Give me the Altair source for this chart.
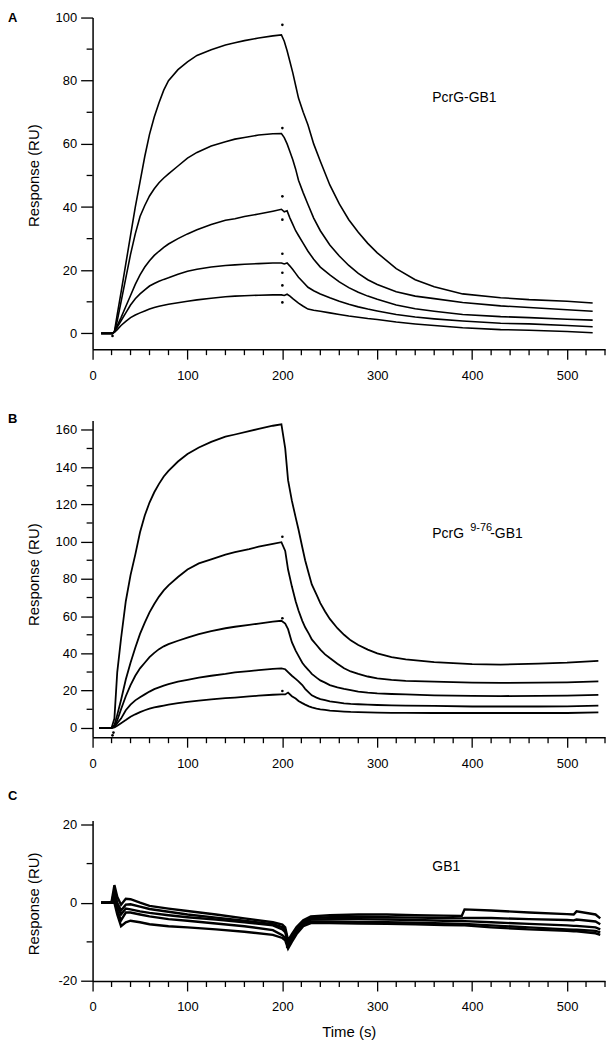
import altair as alt
import pandas as pd

FONT = "Liberation Sans"

# ---------------- tick values ----------------
X_MAJOR = [0, 100, 200, 300, 400, 500]
X_MINOR = [20, 40, 60, 80, 120, 140, 160, 180, 220, 240, 260, 280,
           320, 340, 360, 380, 420, 440, 460, 480, 520, 540]
A_Y_MAJOR = [0, 20, 40, 60, 80, 100]
A_Y_MINOR = [10, 30, 50, 70, 90]
B_Y_MAJOR = [0, 20, 40, 60, 80, 100, 120, 140, 160]
B_Y_MINOR = [10, 30, 50, 70, 90, 110, 130, 150]
C_Y_MAJOR = [-20, 0, 20]
C_Y_MINOR = [-10, 10]

# ---------------- panel A : PcrG-GB1 ----------------
A_time = [9, 15, 21, 23, 26, 30, 35, 40, 45, 50, 55, 60, 65, 70, 75, 80, 90, 100, 110, 125,
          140, 150, 160, 175, 190, 199, 202, 205, 208, 211, 214, 217, 222, 227, 233, 240, 250,
          260, 270, 280, 290, 300, 320, 340, 360, 390, 430, 460, 500, 527]
A_c1 = [0, 0, 0, 0.5, 6, 13, 22, 31, 40, 48, 56, 63, 68.5, 73, 77, 80, 83.5, 86, 88, 89.8,
        91.3, 92, 92.7, 93.5, 94.2, 94.5, 92.5, 89.5, 86, 82.5, 78.5, 74.5, 70, 66, 60, 54.5, 47,
        41, 36, 32, 28.5, 25.5, 20.5, 17, 14.8, 12.5, 11.3, 10.7, 10.2, 9.6]
A_c2 = [0, 0, 0, 0.5, 4, 10, 17.5, 25, 31.5, 37, 40.5, 43.5, 45.8, 47.7, 49.2, 50.5, 53, 55.5, 57.3, 59.3,
        60.7, 61.5, 62, 62.8, 63.2, 63.3, 62, 60, 57.5, 55, 52, 48.5, 44.5, 40.8, 36.5, 32.5, 28,
        24.5, 21.5, 19, 17, 15.5, 13.2, 11.8, 11, 9.8, 8.7, 8.2, 7.5, 7.0]
A_c3 = [0, 0, 0, 0.5, 2.5, 5, 8.5, 12, 15.5, 18.5, 21, 23, 24.7, 26, 27.2, 28.3, 30, 31.5, 32.8, 34.5,
        35.8, 36.3, 37, 37.8, 38.7, 39.3, 38.5, 38.8, 36.5, 34.5, 32.5, 31, 28.5, 26, 23.5, 21, 18.5,
        16.3, 14.5, 13, 11.8, 10.8, 9, 7.8, 7, 6.0, 5.3, 5.0, 4.5, 4.2]
A_c4 = [0, 0, 0, 0.5, 2, 4, 6.5, 9, 11, 12.5, 13.8, 15, 15.8, 16.5, 17.1, 17.6, 18.7, 19.7, 20.3, 21,
        21.5, 21.7, 21.9, 22.1, 22.3, 22.3, 22, 22.3, 21.3, 20.2, 19, 17.8, 16.2, 14.6, 13.5, 12.5, 11.3,
        10.2, 9.2, 8.4, 7.7, 7.1, 6, 5.2, 4.6, 3.9, 3.2, 3.0, 2.5, 2.1]
A_c5 = [0, 0, 0, 0.3, 1.2, 2.5, 3.8, 5, 5.8, 6.5, 7.1, 7.7, 8.2, 8.6, 8.9, 9.2, 9.7, 10.2, 10.6, 11.1,
        11.6, 11.8, 11.9, 12.1, 12.2, 12.2, 12, 12.4, 11.8, 11, 10.3, 9.6, 8.6, 7.7, 7.3, 7.0, 6.5,
        6.0, 5.5, 5.1, 4.7, 4.4, 3.6, 3.0, 2.5, 1.8, 1.2, 1.0, 0.6, 0.2]
A_spike_t = [200, 200, 200, 200, 200, 200, 200, 200, 21]
A_spike_v = [97.7, 65, 43.4, 36, 25.2, 19.2, 15.2, 9.8, -0.8]

# ---------------- panel B : PcrG 9-76-GB1 ----------------
B_time = [7, 15, 20, 23, 26, 30, 35, 40, 45, 50, 55, 60, 65, 70, 75, 80, 90, 100, 112, 125,
          140, 150, 165, 175, 190, 199, 203, 206, 210, 214, 217, 221, 224, 228, 231, 236, 240,
          245, 250, 258, 265, 272, 280, 290, 300, 315, 330, 360, 400, 430, 470, 500, 533]
B_c1 = [0, 0, 0, 5, 30, 48, 68, 82, 93, 105, 114, 121, 126.5, 131, 135, 138, 143, 147, 150.5, 153.5,
        156.3, 157.5, 159.3, 160.5, 162.2, 163, 150, 133, 122, 113, 106.5, 97, 90, 82.5, 77, 71.5, 67,
        62.5, 58.5, 53.5, 50, 47, 44.5, 42, 40, 38, 36.8, 35.3, 34.3, 34, 34.5, 35, 36]
B_c2 = [0, 0, 0, 1.5, 7, 15, 26, 35, 43, 50.5, 56.5, 62, 66.5, 70.5, 73.8, 76.5, 81, 85, 88.3, 90.5,
        93, 94.3, 96, 97.3, 98.8, 99.7, 95, 85, 76, 68, 63, 57.5, 54, 50.5, 47.5, 44.5, 42,
        39.5, 37.5, 34.5, 32, 30.3, 29, 27.6, 26.6, 25.8, 25.3, 24.8, 24.3, 24.2, 24.3, 24.5, 25]
B_c3 = [0, 0, 0, 1, 4, 10, 17, 23, 28, 32, 35, 38, 40.3, 42.3, 43.8, 45, 46.8, 48.5, 50.3, 52,
        53.5, 54.3, 55.3, 56, 57, 57.5, 56, 53, 46, 41.5, 38.7, 35, 33, 30.8, 29, 27, 25.5,
        24.3, 23, 21.8, 21, 20.3, 19.5, 18.9, 18.5, 18.2, 18, 17.5, 17.2, 17.1, 17.2, 17.3, 17.7]
B_c4 = [0, 0, 0, 0.5, 2.5, 5, 9.5, 12.5, 14.8, 16.5, 18, 19.5, 20.8, 21.8, 22.7, 23.5, 24.8, 25.8, 27, 28,
        29, 29.8, 30.5, 31, 31.7, 32, 31.5, 30, 28, 26.3, 25, 23, 21, 19, 17.5, 16.3, 15.5,
        14.9, 14.3, 13.7, 13.2, 12.9, 12.7, 12.5, 12.3, 12.1, 12, 11.8, 11.5, 11.5, 11.5, 11.6, 12]
B_c5 = [0, 0, 0, 0.3, 1.2, 2.5, 4.2, 6, 7.3, 8.5, 9.5, 10.3, 11, 11.5, 12, 12.5, 13.3, 14, 14.7, 15.3,
        16, 16.3, 16.9, 17.3, 17.8, 18, 18, 19, 17, 15.8, 14.5, 13.3, 12.5, 11.6, 11, 10.4, 10,
        9.7, 9.3, 9.0, 8.8, 8.6, 8.5, 8.3, 8.2, 8.1, 8.1, 8, 8, 8, 8, 8, 8.3]
B_spike_t = [200, 200, 200, 21, 22]
B_spike_v = [102.6, 58.9, 19.8, -4, -2.5]

# ---------------- panel C : GB1 ----------------
C_time = [9, 15, 20, 23, 26, 30, 35, 40, 50, 60, 80, 100, 130, 160, 190, 200, 203, 206, 210,
          215, 222, 230, 250, 280, 310, 340, 370, 389, 392, 420, 460, 500, 507, 510, 530, 535]
C_c1 = [0, 0, 0.2, 4.5, 1.5, -0.5, 1, 0.9, 0, -0.8, -1.5, -2.1, -3, -4, -5, -5.6, -6.3, -9.6, -8,
        -6.2, -4.5, -3.5, -3.2, -3, -3, -3.2, -3.3, -3.4, -1.7, -2, -2.5, -2.9, -3, -2.2, -3, -4]
C_c2 = [0, 0, 0, 3, 0, -2, -0.5, -0.4, -1, -1.6, -2.3, -3, -3.8, -4.6, -5.5, -6.2, -7, -10, -8.5,
        -6.5, -4.8, -3.9, -3.7, -3.6, -3.7, -3.8, -3.9, -4, -3.9, -3.9, -4.2, -4.4, -4.5, -4.3, -4.8, -5.5]
C_c3 = [0, 0, 0, 2, -1, -3, -1.5, -1.7, -2.2, -2.6, -3.2, -3.7, -4.3, -5, -5.8, -6.8, -7.5, -10.5, -9,
        -7, -5.2, -4.3, -4.2, -4.2, -4.3, -4.4, -4.6, -4.7, -4.7, -5, -5.4, -5.8, -5.9, -5.9, -6.3, -6.8]
C_c4 = [0, 0, 0, 1, -2, -4.5, -2.5, -2.5, -3, -3.5, -4.2, -4.6, -5.3, -6, -7, -8.3, -9, -11, -9.5,
        -7.5, -5.5, -4.8, -4.8, -4.9, -5, -5.1, -5.3, -5.4, -5.4, -5.8, -6.3, -6.8, -6.9, -6.9, -7.2, -7.6]
C_c5 = [0, 0, 0, 0, -3, -6, -5, -4.6, -5, -5.5, -6, -6.3, -6.8, -7.4, -8.2, -9, -9.6, -11.7, -10,
        -8, -6, -5.2, -5.2, -5.3, -5.4, -5.5, -5.7, -5.8, -5.8, -6.3, -6.8, -7.2, -7.3, -7.3, -7.8, -8.2]
C_spike_t = [205]
C_spike_v = [-11.3]

W = 515


def long_df(times, curves):
    rows = []
    for i, vals in enumerate(curves):
        for t, v in zip(times, vals):
            rows.append({"t": t, "v": v, "curve": "c%d" % (i + 1)})
    return pd.DataFrame(rows)


def panel(times, curves, spk_t, spk_v, ydom, ymaj, ymin, H, letter, letter_y, ext,
          title_y, texts, xtitle, sw):
    xs = alt.Scale(domain=[0, 540], nice=False, zero=False)
    ys = alt.Scale(domain=ydom, nice=False, zero=False)
    xkw = dict(values=X_MAJOR, tickSize=10, labelPadding=10, labelFlush=False,
               labelOverlap=False, labelExpr="'' + datum.value")
    if xtitle:
        xaxis = alt.Axis(title="Time (s)", titleY=51, titleBaseline="middle", **xkw)
    else:
        xaxis = alt.Axis(title=None, **xkw)
    yaxis = alt.Axis(values=ymaj, tickSize=12, labelPadding=4, labelOverlap=False,
                     labelFlush=False, labelExpr="'' + datum.value",
                     title="Response (RU)", titleX=-54, titleY=title_y, titleAngle=270,
                     titleAlign="center", titleBaseline="alphabetic")
    X = alt.X("t:Q", scale=xs, axis=xaxis)
    Y = alt.Y("v:Q", scale=ys, axis=yaxis)

    lines = alt.Chart(long_df(times, curves)).mark_line(
        color="black", strokeWidth=sw).encode(x=X, y=Y, detail="curve:N")
    spikes = alt.Chart(pd.DataFrame({"t": spk_t, "v": spk_v})).mark_circle(
        size=7, color="black", opacity=1).encode(x=X, y=Y)
    xminor = alt.Chart(pd.DataFrame({"t": X_MINOR})).mark_rule(
        color="black", strokeWidth=1.3).encode(x=X, y=alt.value(H), y2=alt.value(H + 6))
    yminor = alt.Chart(pd.DataFrame({"v": ymin})).mark_rule(
        color="black", strokeWidth=1.3).encode(y=Y, x=alt.value(0), x2=alt.value(-6))
    let = alt.Chart(pd.DataFrame({"s": [letter]})).mark_text(
        align="left", baseline="top", fontSize=13, fontWeight="bold", font=FONT,
        color="black").encode(x=alt.value(-85), y=alt.value(letter_y), text="s:N")
    extent = alt.Chart(pd.DataFrame({"s": [0]})).mark_rule(
        color="white", strokeWidth=1).encode(x=alt.value(W - 2), y=alt.value(-ext), y2=alt.value(0))
    layers = [extent, xminor, yminor, lines, spikes, let]
    for (txt, tx, ty, fs) in texts:
        layers.append(
            alt.Chart(pd.DataFrame({"s": [txt]})).mark_text(
                align="left", baseline="alphabetic", fontSize=fs, font=FONT, color="black"
            ).encode(x=alt.XDatum(tx, type="quantitative", scale=xs, axis=xaxis),
                     y=alt.YDatum(ty, type="quantitative", scale=ys, axis=yaxis),
                     text="s:N"))
    return alt.layer(*layers).properties(width=W, height=H)


pA = panel(A_time, [A_c1, A_c2, A_c3, A_c4, A_c5], A_spike_t, A_spike_v, [-5, 100],
           A_Y_MAJOR, A_Y_MINOR, 333.3, "A", -6, 6, 158.5,
           [("PcrG-GB1", 358, 73.4, 14)], False, 1.6)
pB = panel(B_time, [B_c1, B_c2, B_c3, B_c4, B_c5], B_spike_t, B_spike_v, [-5, 165],
           B_Y_MAJOR, B_Y_MINOR, 318.3, "B", -8, 28.7, 154.5,
           [("PcrG", 358, 102.1, 14), ("9-76", 398, 105.6, 11), ("-GB1", 419, 102.1, 14)],
           False, 1.8)
pC = panel(C_time, [C_c1, C_c2, C_c3, C_c4, C_c5], C_spike_t, C_spike_v, [-20, 21],
           C_Y_MAJOR, C_Y_MINOR, 161.3, "C", -31, 41.4, 83.3,
           [("GB1", 358, 8.2, 14)], True, 2.4)

chart = alt.vconcat(pA, pB, pC, spacing=8).properties(padding=0).configure_view(
    stroke=None
).configure_axis(
    domainColor="black", tickColor="black", labelColor="black", titleColor="black",
    labelFont=FONT, titleFont=FONT, labelFontSize=13, titleFontSize=15,
    titleFontWeight="normal", domainWidth=1.5, tickWidth=1.3, grid=False
)

chart.save("out.html", embed_options={"renderer": "svg", "actions": False})
